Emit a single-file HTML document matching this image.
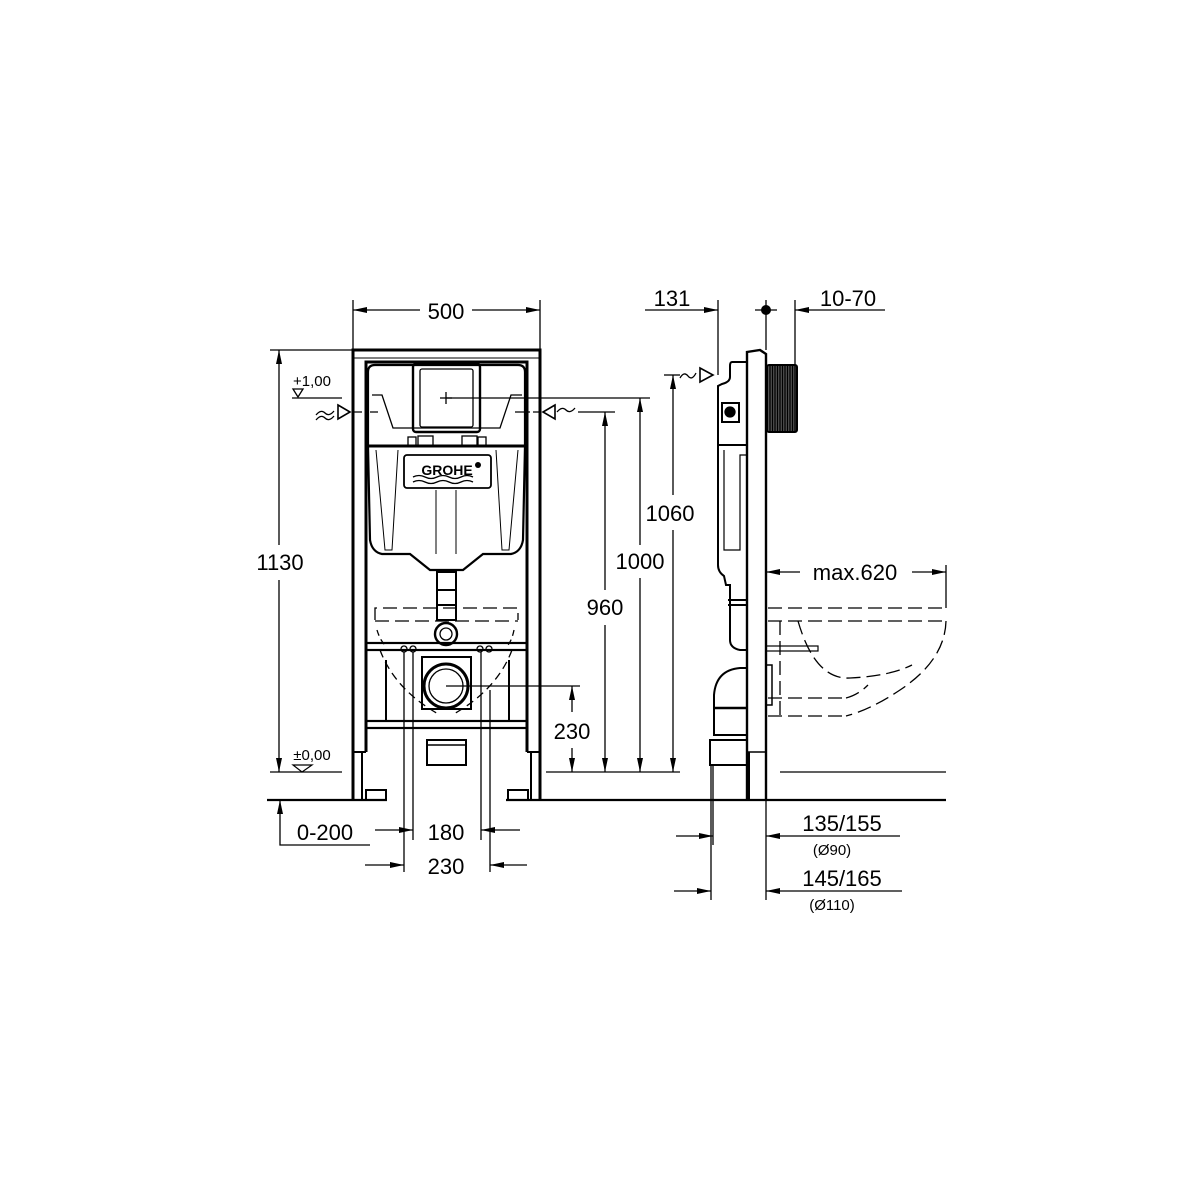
<!DOCTYPE html>
<html><head><meta charset="utf-8"><style>
html,body{margin:0;padding:0;background:#fff;}
svg{display:block;}
text{font-family:"Liberation Sans",sans-serif;fill:#000;}
</style></head><body>
<svg width="1200" height="1200" viewBox="0 0 1200 1200" xmlns="http://www.w3.org/2000/svg">
<defs>
<marker id="a" markerWidth="14" markerHeight="6" refX="14" refY="3" orient="auto" markerUnits="userSpaceOnUse"><path d="M0,0 L14,3 L0,6 z" fill="#000"/></marker>
</defs>
<g stroke="#000" fill="none" stroke-width="1.3">
<line x1="353" y1="300" x2="353" y2="350"/><line x1="540" y1="300" x2="540" y2="350"/>
<line x1="420" y1="310" x2="353" y2="310" marker-end="url(#a)"/>
<line x1="472" y1="310" x2="540" y2="310" marker-end="url(#a)"/>
<line x1="270" y1="350" x2="353" y2="350"/>
<line x1="279" y1="545" x2="279" y2="350" marker-end="url(#a)"/>
<line x1="279" y1="580" x2="279" y2="772" marker-end="url(#a)"/>
<line x1="270" y1="772" x2="342" y2="772"/>
<line x1="292" y1="398" x2="342" y2="398"/>
<path d="M293,389 L303,389 L298,397 z"/>
<path d="M293,765 L312,765 L302,772 z" stroke-width="1.2"/>
<path d="M316,415 q5,-6 9,-2 q4,4 9,-2 M316,420 q5,-6 9,-2 q4,4 9,-2"/>
<path d="M338,405 L350,412 L338,419 z" stroke-width="1.6"/>
<line x1="352" y1="412" x2="378" y2="412" stroke-dasharray="10,3,2,3"/>
<path d="M555,405 L543,412 L555,419 z" stroke-width="1.6"/>
<path d="M557,412 q5,-6 9,-2 q4,4 9,-2"/>
<line x1="515" y1="412" x2="540" y2="412" stroke-dasharray="10,3,2,3"/>
<line x1="578" y1="412" x2="615" y2="412"/>
<line x1="446" y1="398" x2="650" y2="398"/>
<line x1="440" y1="398" x2="452" y2="398"/><line x1="446" y1="392" x2="446" y2="404"/>
<path d="M353,800 L353,350 L540,350 L540,800" stroke-width="3"/>
<path d="M366,752 L366,362 L527,362 L527,752" stroke-width="3"/>
<line x1="353" y1="358" x2="540" y2="358" stroke-width="1"/>
<line x1="353" y1="752" x2="366" y2="752" stroke-width="2"/><line x1="527" y1="752" x2="540" y2="752" stroke-width="2"/>
<line x1="362" y1="752" x2="362" y2="800" stroke-width="2"/><line x1="531" y1="752" x2="531" y2="800" stroke-width="2"/>
<rect x="366" y="790" width="20" height="10" stroke-width="2"/><rect x="508" y="790" width="20" height="10" stroke-width="2"/>
<line x1="267" y1="800" x2="387" y2="800" stroke-width="2.2"/>
<line x1="506" y1="800" x2="946" y2="800" stroke-width="2.2"/>
<path d="M368,445 L368,372 Q368,365 375,365 L518,365 Q525,365 525,372 L525,445" stroke-width="2.2"/>
<line x1="366" y1="446" x2="527" y2="446" stroke-width="3"/>
<path d="M372,395 L382,395 L393,428 L500,428 L511,395 L522,395" stroke-width="1.3"/>
<rect x="413" y="364" width="67" height="68" rx="3" stroke-width="2.4"/>
<rect x="420" y="369" width="53" height="58" rx="2"/>
<path d="M368,446 L370,540 Q372,552 382,554 L410,554 L430,570 L463,570 L483,554 L511,554 Q521,552 523,540 L525,446" stroke-width="2.2"/>
<path d="M376,450 L385,550 L392,550 L398,450 M518,450 L509,550 L502,550 L496,450" stroke-width="1"/>
<path d="M436,490 L436,554 M456,490 L456,554" stroke-width="1"/>
<rect x="404" y="455" width="87" height="33" rx="3" stroke-width="1.8"/>
<path d="M413,477 q6,-3 12,0 t12,0 t12,0 t12,0 t12,0 M413,482 q6,-3 12,0 t12,0 t12,0 t12,0 t12,0"/>
<rect x="408" y="437" width="8" height="9"/><rect x="478" y="437" width="8" height="9"/>
<rect x="418" y="436" width="15" height="10"/><rect x="462" y="436" width="15" height="10"/>
<rect x="437" y="572" width="19" height="48" stroke-width="2"/>
<line x1="437" y1="590" x2="456" y2="590" stroke-width="2"/><line x1="437" y1="605" x2="456" y2="605" stroke-width="2"/>
<circle cx="446" cy="634" r="11" stroke-width="2.4"/><circle cx="446" cy="634" r="6"/>
<path d="M375,620 L375,608 L518,608 L518,620 M375,621 L518,621" stroke-dasharray="14,6"/>
<path d="M377,630 Q380,640 385,645 M514,630 Q512,640 508,645" stroke-dasharray="6,4"/>
<rect x="366" y="643" width="161" height="7" stroke-width="2.2"/>
<rect x="366" y="721" width="161" height="7" stroke-width="2.2"/>
<line x1="386" y1="660" x2="386" y2="720" stroke-width="2"/><line x1="509" y1="660" x2="509" y2="720" stroke-width="2"/>
<rect x="422" y="657" width="49" height="52" stroke-width="2"/>
<circle cx="446" cy="686" r="22" stroke-width="3"/><circle cx="446" cy="686" r="17"/>
<line x1="446" y1="686" x2="580" y2="686"/>
<path d="M380,650 Q395,690 440,715 M512,650 Q497,690 452,715" stroke-dasharray="8,5"/>
<circle cx="404" cy="649" r="3"/><circle cx="413" cy="649" r="3"/><circle cx="480" cy="649" r="3"/><circle cx="489" cy="649" r="3"/>
<rect x="427" y="740" width="39" height="25" stroke-width="2"/>
<line x1="427" y1="745" x2="466" y2="745" stroke-width="1.5"/>
<line x1="404" y1="652" x2="404" y2="872"/><line x1="413" y1="652" x2="413" y2="840"/>
<line x1="481" y1="652" x2="481" y2="840"/><line x1="490" y1="690" x2="490" y2="872"/>
<line x1="375" y1="830" x2="413" y2="830" marker-end="url(#a)"/>
<line x1="520" y1="830" x2="481" y2="830" marker-end="url(#a)"/>
<line x1="365" y1="865" x2="404" y2="865" marker-end="url(#a)"/>
<line x1="527" y1="865" x2="490" y2="865" marker-end="url(#a)"/>
<path d="M370,845 L280,845 L280,800" marker-end="url(#a)"/>
<line x1="572" y1="712" x2="572" y2="686" marker-end="url(#a)"/>
<line x1="572" y1="748" x2="572" y2="772" marker-end="url(#a)"/>
<line x1="546" y1="772" x2="680" y2="772"/>
<line x1="605" y1="590" x2="605" y2="412" marker-end="url(#a)"/>
<line x1="605" y1="625" x2="605" y2="772" marker-end="url(#a)"/>
<line x1="640" y1="545" x2="640" y2="398" marker-end="url(#a)"/>
<line x1="640" y1="578" x2="640" y2="772" marker-end="url(#a)"/>
<line x1="673" y1="495" x2="673" y2="375" marker-end="url(#a)"/>
<line x1="673" y1="530" x2="673" y2="772" marker-end="url(#a)"/>
<line x1="645" y1="310" x2="718" y2="310" marker-end="url(#a)"/>
<line x1="718" y1="300" x2="718" y2="375"/>
<line x1="885" y1="310" x2="795" y2="310" marker-end="url(#a)"/>
<line x1="795" y1="300" x2="795" y2="365"/>
<line x1="766" y1="300" x2="766" y2="350"/>
<line x1="755" y1="310" x2="777" y2="310"/>
<line x1="664" y1="375" x2="680" y2="375"/>
<path d="M680,378 q4,-7 8,-2 q4,5 8,-3"/>
<path d="M700,368 L713,375 L700,382 z" stroke-width="1.6"/>
<path d="M747,800 L747,352 L760,350 L766,354 L766,800" stroke-width="2.4"/>
<line x1="747" y1="752" x2="766" y2="752" stroke-width="1.5"/>
<line x1="749" y1="752" x2="749" y2="800" stroke-width="2"/>
<rect x="767" y="365" width="30" height="67" rx="2" stroke-width="2" fill="#555"/>
<path d="M770,366 v65 M772.5,366 v65 M775,366 v65 M777.5,366 v65 M780,366 v65 M782.5,366 v65 M785,366 v65 M787.5,366 v65 M790,366 v65 M792.5,366 v65 M795,366 v65" stroke-width="1.3"/>
<path d="M747,362 L732,362 Q730,362 730,366 L730,377 Q730,382 722,384 L718,386 L718,445 L747,445" stroke-width="2"/>
<rect x="722" y="403" width="17" height="19" stroke-width="2"/><circle cx="730" cy="412" r="5" fill="#000"/>
<path d="M718,445 L718,565 Q718,572 724,576 L726,585 L730,585 L730,640 Q730,648 740,650 L747,650" stroke-width="2"/>
<path d="M724,450 L724,550 L740,550 L740,455 L747,455" stroke-width="1.2"/>
<path d="M728,600 L747,600 M728,605 L747,605" stroke-width="2"/>
<path d="M747,668 L740,668 Q716,670 714,695 L714,735 L747,735" stroke-width="2"/>
<line x1="714" y1="708" x2="747" y2="708" stroke-width="2.5"/>
<rect x="710" y="740" width="37" height="25" stroke-width="2"/>
<line x1="713" y1="765" x2="713" y2="845"/><line x1="711" y1="765" x2="711" y2="900"/>
<line x1="766" y1="800" x2="766" y2="900"/>
<rect x="766" y="665" width="6" height="40" stroke-width="1.5"/>
<rect x="766" y="646" width="52" height="5" stroke-width="1.2"/>
<line x1="800" y1="572" x2="766" y2="572" marker-end="url(#a)"/>
<line x1="912" y1="572" x2="946" y2="572" marker-end="url(#a)"/>
<line x1="946" y1="565" x2="946" y2="608"/>
<g stroke-dasharray="14,6">
<line x1="768" y1="608" x2="946" y2="608"/>
<line x1="768" y1="621" x2="946" y2="621"/>
<path d="M946,621 Q945,660 900,690 Q870,710 846,716"/>
<path d="M798,621 Q815,680 850,678 Q890,676 912,665"/>
<path d="M780,621 L780,716"/>
<line x1="768" y1="698" x2="846" y2="698"/>
<line x1="768" y1="716" x2="846" y2="716"/>
<path d="M846,698 Q858,695 868,685"/>
</g>
<line x1="780" y1="772" x2="946" y2="772"/>
<line x1="676" y1="836" x2="713" y2="836" marker-end="url(#a)"/>
<line x1="900" y1="836" x2="766" y2="836" marker-end="url(#a)"/>
<line x1="674" y1="891" x2="711" y2="891" marker-end="url(#a)"/>
<line x1="902" y1="891" x2="766" y2="891" marker-end="url(#a)"/>
</g>
<g font-size="22" text-anchor="middle">
<text x="446" y="319">500</text>
<text x="280" y="570">1130</text>
<text x="605" y="615">960</text>
<text x="640" y="569">1000</text>
<text x="670" y="521">1060</text>
<text x="572" y="739">230</text>
<text x="325" y="840">0-200</text>
<text x="446" y="840">180</text>
<text x="446" y="874">230</text>
<text x="672" y="306">131</text>
<text x="848" y="306">10-70</text>
<text x="855" y="580">max.620</text>
<text x="842" y="831">135/155</text>
<text x="842" y="886">145/165</text>
</g>
<g font-size="15" text-anchor="middle">
<text x="312" y="386">+1,00</text>
<text x="312" y="760">±0,00</text>
<text x="832" y="855">(Ø90)</text>
<text x="832" y="910">(Ø110)</text>
</g>
<text x="447" y="475" font-size="14" font-weight="bold" text-anchor="middle" font-family="Liberation Serif">GROHE</text>
<circle cx="478" cy="465" r="3" fill="#000"/>
<circle cx="766" cy="310" r="5" fill="#000"/>
</svg>
</body></html>
